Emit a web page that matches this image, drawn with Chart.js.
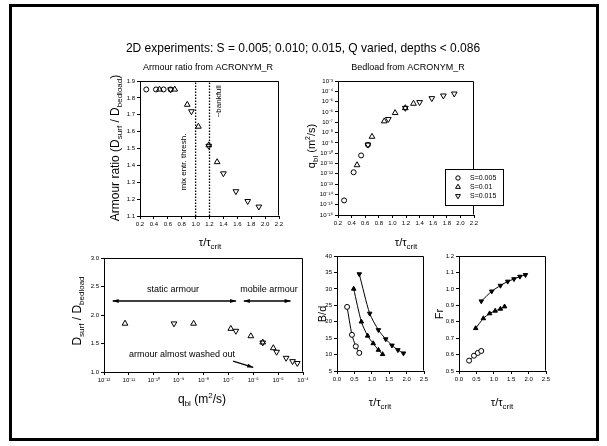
<!DOCTYPE html>
<html><head><meta charset="utf-8">
<script src="https://cdn.jsdelivr.net/npm/chart.js@4.4.0/dist/chart.umd.min.js"></script>
<style>
html,body{margin:0;padding:0;background:#fff;}
#wrap{position:relative;width:607px;height:446px;overflow:hidden;background:#fff;}
canvas{position:absolute;left:0;top:0;}
</style></head><body><div id="wrap">
<canvas id="c1" width="607" height="446"></canvas>
<canvas id="c2" width="607" height="446"></canvas>
<canvas id="c3" width="607" height="446"></canvas>
<canvas id="c4" width="607" height="446"></canvas>
<canvas id="c5" width="607" height="446"></canvas>
</div>
<script>
// ---------------- DATA ----------------
const seriesNames = ['S=0.005', 'S=0.01', 'S=0.015'];
// tau / tau_crit for each series
const tauS005 = [0.29, 0.43, 0.54, 0.64];
const tauS010 = [0.48, 0.70, 0.88, 1.04, 1.19, 1.31];
const tauS015 = [0.64, 0.94, 1.19, 1.40, 1.58, 1.75, 1.91];
// armour ratio D_surf / D_bedload
const armS005 = [1.85, 1.85, 1.85, 1.85];
const armS010 = [1.85, 1.85, 1.76, 1.63, 1.52, 1.42];
const armS015 = [1.85, 1.72, 1.515, 1.352, 1.246, 1.188, 1.155];
// bedload q_bl (m2/s)
const qbS005 = [2.6e-15, 1.4e-12, 6e-11, 6.5e-10];
const qbS010 = [7e-12, 4e-9, 1.25e-7, 8e-7, 2.4e-6, 6.4e-6];
const qbS015 = [6.5e-10, 2e-7, 2.4e-6, 8.7e-6, 2.1e-5, 3.8e-5, 5.9e-5];
// B/d
const bdS005 = [24.5, 16, 12.5, 10.5];
const bdS010 = [30, 20, 15.7, 13.4, 11.4, 10.1];
const bdS015 = [34.5, 22.5, 17.5, 14.7, 12.8, 11.4, 10.4];
// Froude number
const frS005 = [0.563, 0.593, 0.61, 0.622];
const frS010 = [0.76, 0.82, 0.85, 0.866, 0.878, 0.892];
const frS015 = [0.925, 0.985, 1.02, 1.045, 1.06, 1.075, 1.085];
// reference lines / annotations
const tauThresholds = [1.0, 1.2];           // mix entr. thresh., ~bankfull
const regimeArrowY = 2.245;
const staticArmourRange = [Math.pow(10, -11.65), Math.pow(10, -6.69)];
const mobileArmourRange = [Math.pow(10, -6.38), Math.pow(10, -4.5)];
const washedArrow = [[Math.pow(10, -6.81), 1.19], [Math.pow(10, -6.0), 1.08]];
// tick labels
const tauTicksTop = [0.2, 0.4, 0.6, 0.8, 1.0, 1.2, 1.4, 1.6, 1.8, 2.0, 2.2];
const armTicks = [1.1, 1.2, 1.3, 1.4, 1.5, 1.6, 1.7, 1.8, 1.9];
const qbExpTicks = [-16, -15, -14, -13, -12, -11, -10, -9, -8, -7, -6, -5, -4, -3];
const qbExpTicksBL = [-12, -11, -10, -9, -8, -7, -6, -5, -4];
const ratioTicks = [1.0, 1.5, 2.0, 2.5, 3.0];
const tauTicksBot = [0.0, 0.5, 1.0, 1.5, 2.0, 2.5];
const bdTicks = [5, 10, 15, 20, 25, 30, 35, 40];
const frTicks = [0.5, 0.6, 0.7, 0.8, 0.9, 1.0, 1.1, 1.2];

// ---------------- HELPERS ----------------
const FF = '"Liberation Sans", Arial, Helvetica, sans-serif';
Chart.defaults.font.family = FF;
Chart.defaults.color = '#000';
const W = 607, H = 446, YW = 32, XH = 22;
const SUP = {'-':'\u207B','0':'\u2070','1':'\u00B9','2':'\u00B2','3':'\u00B3','4':'\u2074','5':'\u2075','6':'\u2076','7':'\u2077','8':'\u2078','9':'\u2079'};
const sup = n => String(n).split('').map(c => SUP[c]).join('');
const pts = (xs, ys) => xs.map((x, i) => ({x, y: ys[i]}));

function richWidth(ctx, parts) {
  let w = 0;
  for (const p of parts) { ctx.font = p.s + 'px ' + FF; w += ctx.measureText(p.t).width; }
  return w;
}
function drawRich(ctx, parts, x, y, rot, align) {
  ctx.save();
  ctx.translate(x, y);
  if (rot) ctx.rotate(rot);
  const w = richWidth(ctx, parts);
  let cx = align === 'left' ? 0 : -w / 2;
  ctx.textBaseline = 'alphabetic';
  ctx.textAlign = 'left';
  ctx.fillStyle = '#000';
  for (const p of parts) {
    ctx.font = p.s + 'px ' + FF;
    ctx.fillText(p.t, cx, (p.dy || 0));
    cx += ctx.measureText(p.t).width;
  }
  ctx.restore();
}
function txt(ctx, s, size, x, y, rot) { drawRich(ctx, [{t: s, s: size}], x, y, rot); }
function tauLabel(ctx, x, y) {
  drawRich(ctx, [{t: '\u03C4/\u03C4', s: 11}, {t: 'crit', s: 8, dy: 3}], x, y);
}
function arrowHead(ctx, x1, y1, x2, y2, len, half) {
  const a = Math.atan2(y2 - y1, x2 - x1);
  ctx.beginPath();
  ctx.moveTo(x2, y2);
  ctx.lineTo(x2 - len * Math.cos(a) + half * Math.sin(a), y2 - len * Math.sin(a) - half * Math.cos(a));
  ctx.lineTo(x2 - len * Math.cos(a) - half * Math.sin(a), y2 - len * Math.sin(a) + half * Math.cos(a));
  ctx.closePath();
  ctx.fill();
}
function fixTicks(arr) { return function (s) { s.ticks = arr.map(v => ({value: v})); }; }

function linAxis(pos, min, max, ticks, dec) {
  const isX = pos === 'bottom';
  return {
    type: 'linear', position: pos, min, max,
    afterBuildTicks: fixTicks(ticks),
    ticks: {callback: v => Number(v).toFixed(dec), font: {size: 6}, color: '#000', padding: 2, autoSkip: false, maxRotation: 0, minRotation: 0},
    grid: {drawOnChartArea: false, drawTicks: true, tickLength: 3, color: '#000', tickColor: '#000', lineWidth: 1},
    border: {display: true, color: '#000', width: 1},
    afterFit: isX ? (s => { s.height = XH; s.paddingLeft = 0; s.paddingRight = 0; })
                  : (s => { s.width = YW; s.paddingTop = 0; s.paddingBottom = 0; })
  };
}
function logAxis(pos, exps) {
  const isX = pos === 'bottom';
  const vals = exps.map(e => Math.pow(10, e));
  return {
    type: 'logarithmic', position: pos, min: vals[0], max: vals[vals.length - 1],
    afterBuildTicks: fixTicks(vals),
    ticks: {callback: v => '10' + sup(Math.round(Math.log10(v))), font: {size: 6}, color: '#000', padding: 2, autoSkip: false, maxRotation: 0, minRotation: 0},
    grid: {drawOnChartArea: false, drawTicks: true, tickLength: 3, color: '#000', tickColor: '#000', lineWidth: 1},
    border: {display: true, color: '#000', width: 1},
    afterFit: isX ? (s => { s.height = XH; s.paddingLeft = 0; s.paddingRight = 0; })
                  : (s => { s.width = YW; s.paddingTop = 0; s.paddingBottom = 0; })
  };
}
const boxPlugin = {
  id: 'boxFrame',
  afterDraw(chart) {
    const a = chart.chartArea, ctx = chart.ctx;
    ctx.save();
    ctx.strokeStyle = '#000'; ctx.lineWidth = 1;
    ctx.beginPath();
    ctx.moveTo(Math.round(a.left) + 0.5, Math.round(a.top) + 0.5);
    ctx.lineTo(Math.round(a.right) - 0.5, Math.round(a.top) + 0.5);
    ctx.lineTo(Math.round(a.right) - 0.5, Math.round(a.bottom) - 0.5);
    ctx.stroke();
    ctx.restore();
  }
};
function mk(id, box, cfg, extraPlugins) {
  cfg.options = Object.assign(cfg.options || {}, {
    responsive: false, animation: false, devicePixelRatio: 1,
    layout: {padding: {left: box.l - YW, top: box.t, right: W - box.r, bottom: H - box.b - XH}},
    plugins: {legend: {display: false}, tooltip: {enabled: false}}
  });
  cfg.plugins = [boxPlugin].concat(extraPlugins || []);
  return new Chart(document.getElementById(id), cfg);
}
const styles = [
  {pointStyle: 'circle', rotation: 0},
  {pointStyle: 'triangle', rotation: 0},
  {pointStyle: 'triangle', rotation: 180}
];
function openDs(i, data, r) {
  return {
    label: seriesNames[i], data,
    pointStyle: styles[i].pointStyle, rotation: styles[i].rotation,
    pointRadius: r || (i === 0 ? 2.5 : 3.3), borderColor: '#000', backgroundColor: 'rgba(0,0,0,0)',
    borderWidth: 1, showLine: false
  };
}
function lineDs(i, data) {
  return {
    label: seriesNames[i], data,
    pointStyle: styles[i].pointStyle, rotation: styles[i].rotation,
    pointRadius: i === 0 ? 2.5 : 2.6,
    pointBorderColor: '#000', pointBackgroundColor: i === 0 ? '#fff' : '#000', pointBorderWidth: 1,
    borderColor: '#000', borderWidth: 1, showLine: true, tension: 0.25, fill: false
  };
}

// ---------------- PANEL 1: Armour ratio ----------------
const pageText = {
  id: 'pageText',
  afterDraw(chart) {
    const ctx = chart.ctx;
    ctx.save();
    // outer frame
    ctx.strokeStyle = '#000'; ctx.lineWidth = 3;
    ctx.strokeRect(10.5, 5.5, 587, 434);
    txt(ctx, '2D experiments: S = 0.005; 0.010; 0.015, Q varied, depths < 0.086', 12, 303, 52);
    txt(ctx, 'Armour ratio from ACRONYM_R', 9, 208, 70);
    txt(ctx, 'Bedload from ACRONYM_R', 9, 408, 70);
    // panel 1 labels
    drawRich(ctx, [{t: 'Armour ratio (D', s: 12}, {t: 'surf', s: 8, dy: 3}, {t: ' / D', s: 12}, {t: 'bedload', s: 8, dy: 3}, {t: ')', s: 12}], 119, 148, -Math.PI / 2);
    tauLabel(ctx, 210, 246);
    const xs = chart.scales.x, ys = chart.scales.y;
    txt(ctx, 'mix entr. thresh.', 8, xs.getPixelForValue(tauThresholds[0]) - 10, ys.getPixelForValue(1.42), -Math.PI / 2);
    txt(ctx, '~bankfull', 8, xs.getPixelForValue(tauThresholds[1]) + 11, ys.getPixelForValue(1.78), -Math.PI / 2);
    ctx.restore();
  }
};
mk('c1', {l: 140, t: 81, r: 279, b: 216}, {
  type: 'scatter',
  data: {datasets: [
    openDs(0, pts(tauS005, armS005)),
    openDs(1, pts(tauS010, armS010)),
    openDs(2, pts(tauS015, armS015)),
    ...tauThresholds.map(t => ({data: [{x: t, y: 1.1}, {x: t, y: 1.9}], showLine: true, borderColor: '#000', borderWidth: 1.3, borderDash: [1.5, 1.5], pointRadius: 0}))
  ]},
  options: {scales: {x: linAxis('bottom', 0.2, 2.2, tauTicksTop, 1), y: linAxis('left', 1.1, 1.9, armTicks, 1)}}
}, [pageText]);

// ---------------- PANEL 2: Bedload ----------------
const p2Text = {
  id: 'p2Text',
  afterDraw(chart) {
    const ctx = chart.ctx;
    ctx.save();
    drawRich(ctx, [{t: 'q', s: 11}, {t: 'bl', s: 8, dy: 3}, {t: ' (m', s: 11}, {t: '2', s: 7, dy: -5}, {t: '/s)', s: 11}], 315, 146, -Math.PI / 2);
    tauLabel(ctx, 406, 246);
    // legend
    ctx.fillStyle = '#fff'; ctx.fillRect(445, 169, 58, 36);
    ctx.strokeStyle = '#000'; ctx.lineWidth = 1;
    ctx.strokeRect(445.5, 169.5, 58, 36);
    const rows = [178, 187, 196];
    for (let i = 0; i < 3; i++) {
      ctx.fillStyle = 'rgba(0,0,0,0)';
      ctx.strokeStyle = '#000';
      ctx.lineWidth = 1;
      Chart.helpers.drawPoint(ctx, {pointStyle: styles[i].pointStyle, rotation: styles[i].rotation, radius: i === 0 ? 2.2 : 2.8, borderWidth: 1}, 458, rows[i]);
      ctx.fillStyle = '#000';
      ctx.font = '7px ' + FF; ctx.textBaseline = 'middle'; ctx.textAlign = 'left';
      ctx.fillText(seriesNames[i], 470, rows[i]);
    }
    ctx.restore();
  }
};
mk('c2', {l: 338, t: 81, r: 474, b: 215}, {
  type: 'scatter',
  data: {datasets: [
    openDs(0, pts(tauS005, qbS005)),
    openDs(1, pts(tauS010, qbS010)),
    openDs(2, pts(tauS015, qbS015))
  ]},
  options: {scales: {x: linAxis('bottom', 0.2, 2.2, tauTicksTop, 1), y: logAxis('left', qbExpTicks)}}
}, [p2Text]);

// ---------------- PANEL 3: ratio vs bedload ----------------
const p3Text = {
  id: 'p3Text',
  afterDraw(chart) {
    const ctx = chart.ctx, xs = chart.scales.x, ys = chart.scales.y;
    ctx.save();
    drawRich(ctx, [{t: 'D', s: 12}, {t: 'surf', s: 8, dy: 3}, {t: ' / D', s: 12}, {t: 'bedload', s: 8, dy: 3}], 81, 311, -Math.PI / 2);
    drawRich(ctx, [{t: 'q', s: 12}, {t: 'bl', s: 8, dy: 3}, {t: ' (m', s: 12}, {t: '2', s: 8, dy: -5}, {t: '/s)', s: 12}], 202, 403);
    ctx.fillStyle = '#000';
    const yA = ys.getPixelForValue(regimeArrowY);
    for (const r of [staticArmourRange, mobileArmourRange]) {
      const x1 = xs.getPixelForValue(r[0]), x2 = xs.getPixelForValue(r[1]);
      arrowHead(ctx, x2, yA, x1, yA, 6, 2);
      arrowHead(ctx, x1, yA, x2, yA, 6, 2);
    }
    txt(ctx, 'static armour', 9, 173, 292);
    txt(ctx, 'mobile armour', 9, 269, 292);
    txt(ctx, 'armour almost washed out', 9, 182, 357);
    const ax1 = xs.getPixelForValue(washedArrow[0][0]), ay1 = ys.getPixelForValue(washedArrow[0][1]);
    const ax2 = xs.getPixelForValue(washedArrow[1][0]), ay2 = ys.getPixelForValue(washedArrow[1][1]);
    arrowHead(ctx, ax1, ay1, ax2, ay2, 6, 2);
    ctx.restore();
  }
};
mk('c3', {l: 104, t: 258, r: 303, b: 372}, {
  type: 'scatter',
  data: {datasets: [
    openDs(1, pts(qbS010, armS010)),
    openDs(2, pts(qbS015, armS015)),
    {data: staticArmourRange.map(x => ({x, y: regimeArrowY})), showLine: true, borderColor: '#000', borderWidth: 1.5, pointRadius: 0},
    {data: mobileArmourRange.map(x => ({x, y: regimeArrowY})), showLine: true, borderColor: '#000', borderWidth: 1.5, pointRadius: 0},
    {data: washedArrow.map(p => ({x: p[0], y: p[1]})), showLine: true, borderColor: '#000', borderWidth: 1.2, pointRadius: 0}
  ]},
  options: {scales: {x: logAxis('bottom', qbExpTicksBL), y: linAxis('left', 1.0, 3.0, ratioTicks, 1)}}
}, [p3Text]);

// ---------------- PANEL 4: B/d ----------------
const p4Text = {
  id: 'p4Text',
  afterDraw(chart) {
    const ctx = chart.ctx;
    txt(ctx, 'B/d', 11, 326, 314, -Math.PI / 2);
    tauLabel(ctx, 380, 406);
  }
};
mk('c4', {l: 337, t: 256, r: 424, b: 371}, {
  type: 'scatter',
  data: {datasets: [
    lineDs(0, pts(tauS005, bdS005)),
    lineDs(1, pts(tauS010, bdS010)),
    lineDs(2, pts(tauS015, bdS015))
  ]},
  options: {scales: {x: linAxis('bottom', 0, 2.5, tauTicksBot, 1), y: linAxis('left', 5, 40, bdTicks, 0)}}
}, [p4Text]);

// ---------------- PANEL 5: Fr ----------------
const p5Text = {
  id: 'p5Text',
  afterDraw(chart) {
    const ctx = chart.ctx;
    txt(ctx, 'Fr', 11, 443, 314, -Math.PI / 2);
    tauLabel(ctx, 502, 406);
  }
};
mk('c5', {l: 459, t: 256, r: 546, b: 371}, {
  type: 'scatter',
  data: {datasets: [
    lineDs(0, pts(tauS005, frS005)),
    lineDs(1, pts(tauS010, frS010)),
    lineDs(2, pts(tauS015, frS015))
  ]},
  options: {scales: {x: linAxis('bottom', 0, 2.5, tauTicksBot, 1), y: linAxis('left', 0.5, 1.2, frTicks, 1)}}
}, [p5Text]);
</script>
</body></html>
